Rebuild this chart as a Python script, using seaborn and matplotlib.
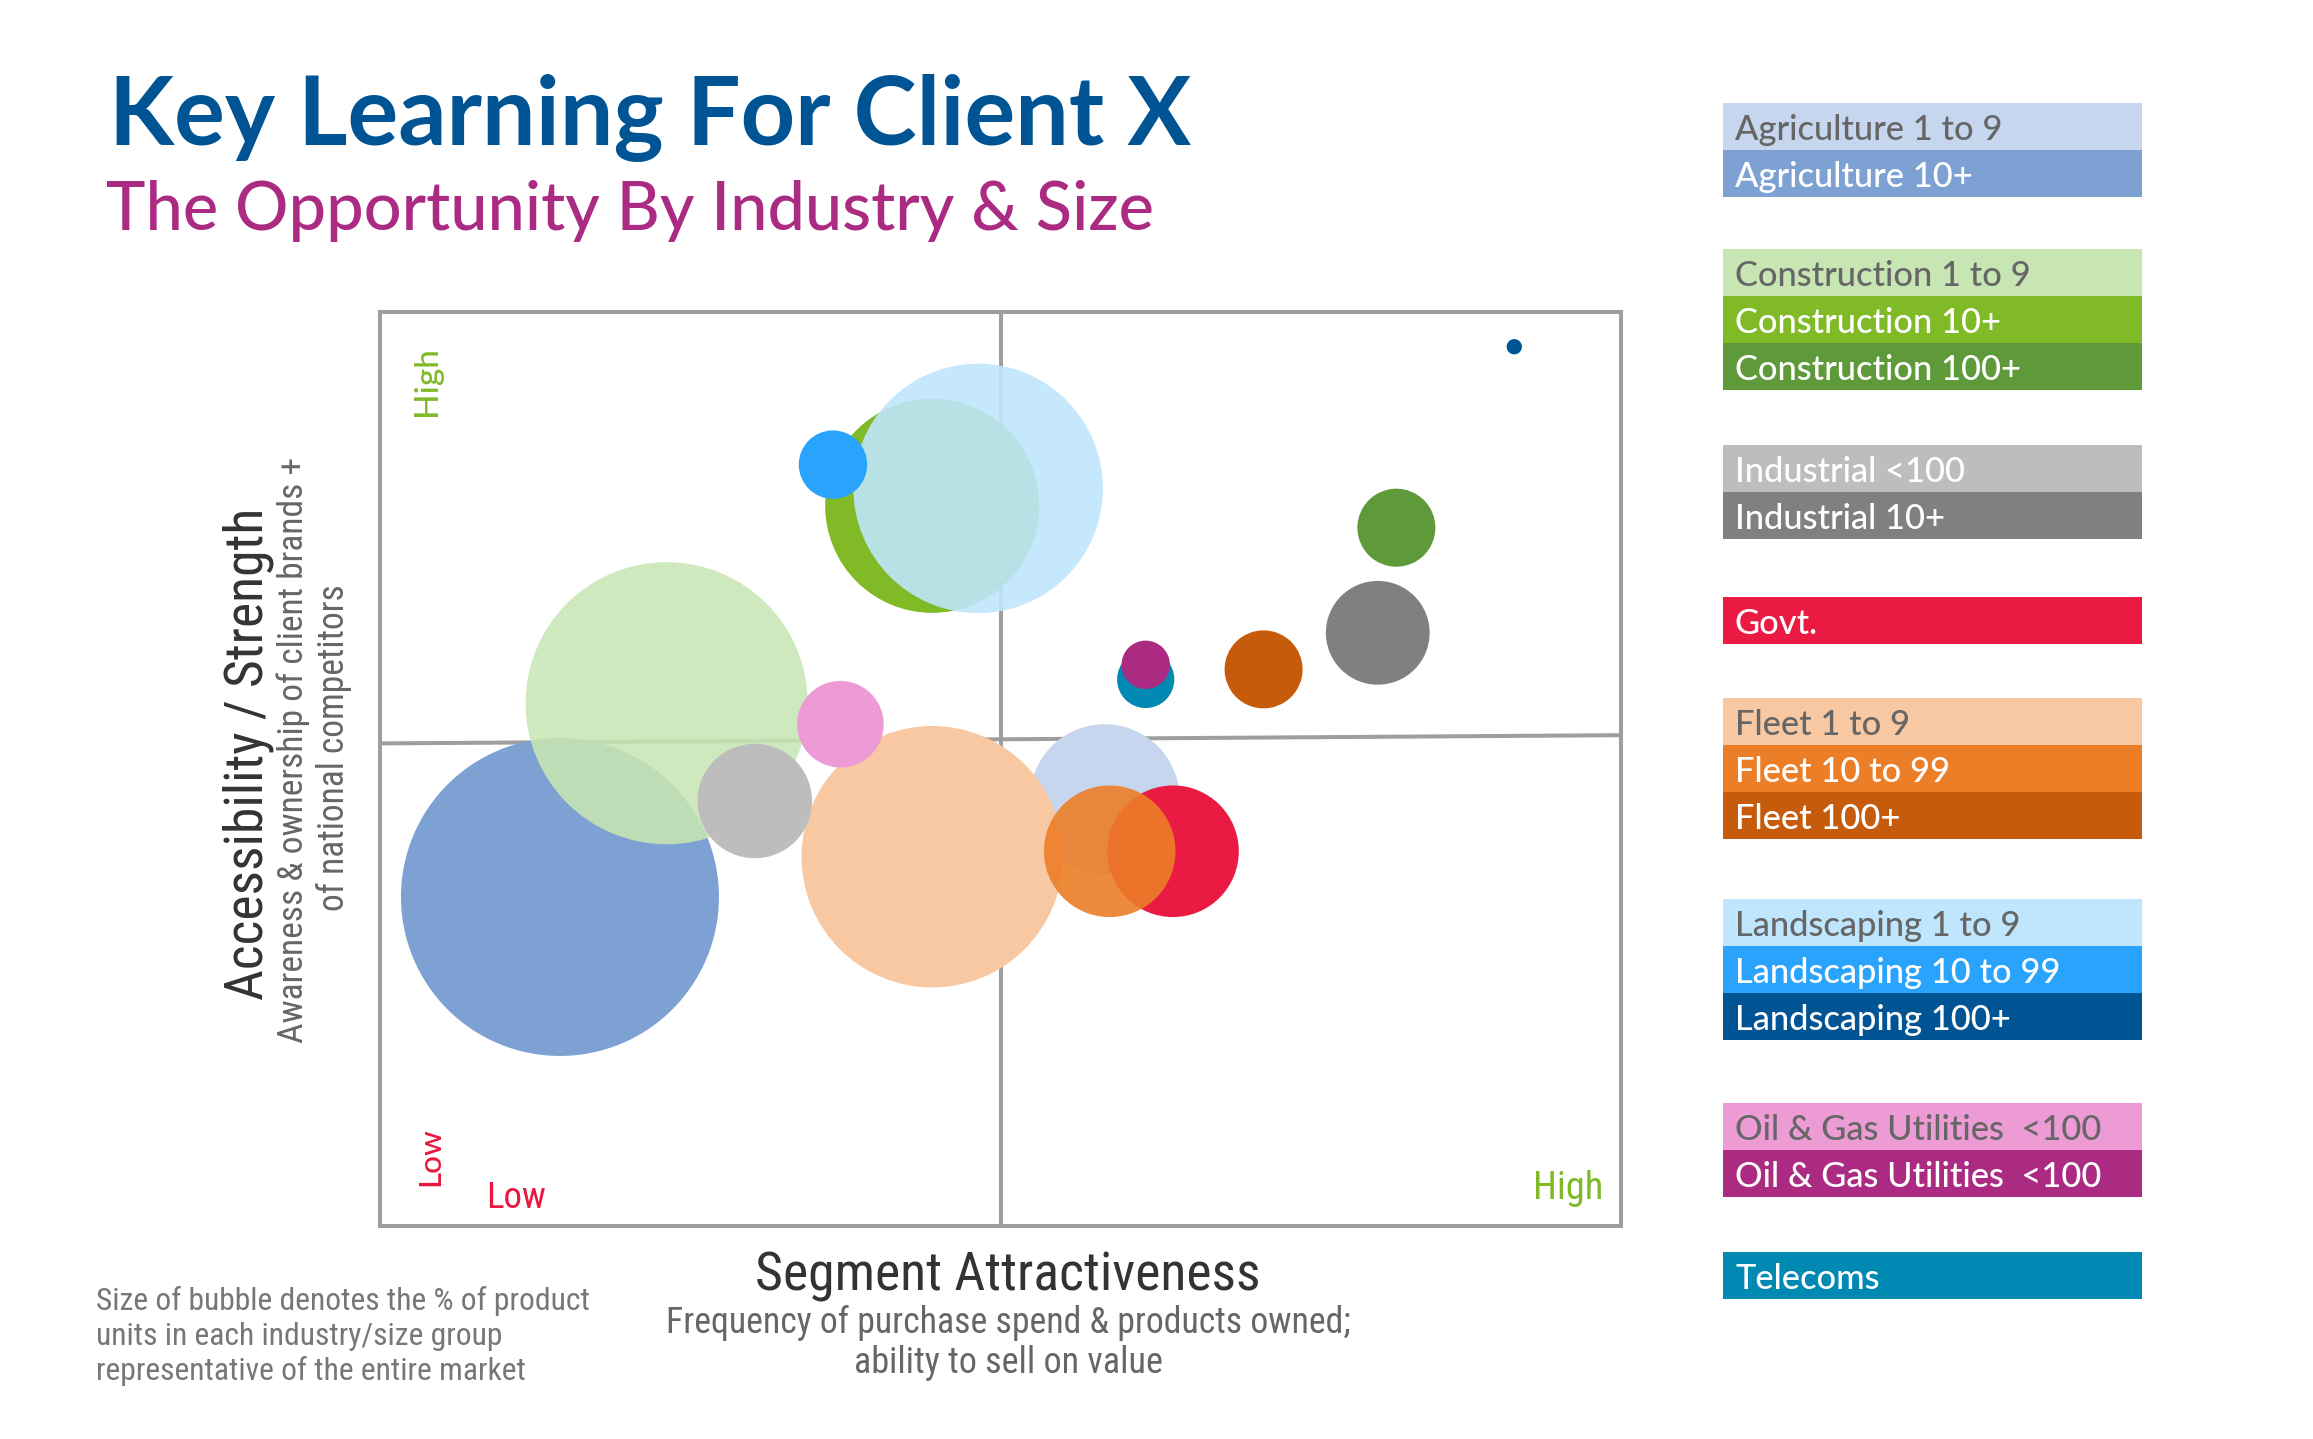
import matplotlib
matplotlib.use("Agg")
import matplotlib.pyplot as plt
import seaborn as sns
import pandas as pd
import numpy as np
from matplotlib import font_manager as fm

# ---------------- data ----------------
segments = ["Agriculture 1 to 9", "Agriculture 10+",
            "Construction 1 to 9", "Construction 10+", "Construction 100+",
            "Industrial <100", "Industrial 10+",
            "Govt.",
            "Fleet 1 to 9", "Fleet 10 to 99", "Fleet 100+",
            "Landscaping 1 to 9", "Landscaping 10 to 99", "Landscaping 100+",
            "Oil & Gas Utilities  <100", "Oil & Gas Utilities  <100",
            "Telecoms"]
group = [0, 0, 1, 1, 1, 2, 2, 3, 4, 4, 4, 5, 5, 5, 6, 6, 7]
colors = ["#C6D6EE", "#7EA1D4",
          "#C8E6B4", "#80BA27", "#5E9A3A",
          "#BDBDBD", "#808080",
          "#EA1A42",
          "#F8C8A2", "#EC7E28", "#C65B0C",
          "#BFE6FC", "#29A3FC", "#005493",
          "#EC9BD5", "#AB2A82",
          "#0089B2"]
# Segment attractiveness (x, 0-100) and accessibility / strength (y, 0-100)
attractiveness = [58.4, 14.5, 23.1, 44.5, 81.9, 30.2, 80.4, 63.9, 44.5, 58.8, 71.2,
                  48.2, 36.5, 91.4, 37.1, 61.7, 61.7]
accessibility = [46.7, 36.0, 57.2, 78.8, 76.4, 46.5, 64.9, 41.0, 40.4, 41.0, 60.9,
                 80.7, 83.3, 96.2, 54.9, 61.4, 59.8]
# % of product units (bubble size)
share = [4.8, 21.6, 17.0, 9.8, 1.3, 2.8, 2.3, 3.7, 14.6, 3.7, 1.3,
         13.3, 1.0, 0.05, 1.6, 0.5, 0.7]
dark_label = [False, True, False, True, True, True, True, True, False, True, True,
              False, True, True, False, True, True]

# ---------------- style / layout ----------------
bubble_alpha = {2: 0.88, 9: 0.9, 11: 0.9}
draw_order = [1, 2, 0, 8, 5, 14, 7, 9, 3, 11, 12, 16, 15, 10, 6, 4, 13]
group_top = [103, 249, 445, 597, 698, 899, 1103, 1252]
ROW_H = 47

sns.set_style("white")
plt.rcParams["font.family"] = ["Lato", "DejaVu Sans"]


def find_condensed():
    entries = fm.fontManager.ttflist
    prefs = ["Noto Sans", "Open Sans", "Roboto", "Liberation Sans", "Lato",
             "Inter", "DejaVu Sans"]
    good_stretch = ["condensed", "semi-condensed"]

    def is_cond(e):
        n = e.name.lower()
        st = str(e.stretch).lower()
        return (st in good_stretch or "condensed" in n or "narrow" in n) and \
            "extra" not in n and "ultra" not in n

    def is_regular(e):
        w = e.weight
        try:
            w = int(w)
        except Exception:
            w = 400 if str(w) in ("normal", "regular", "book") else 700
        return 350 <= w <= 450 and e.style == "normal"

    cands = [e for e in entries if is_cond(e) and is_regular(e)
             and "mono" not in e.name.lower() and "serif" not in e.name.lower()]
    for p in prefs:
        for e in cands:
            if e.name.startswith(p) and ("semi" not in e.fname.lower()):
                return fm.FontProperties(fname=e.fname)
        for e in cands:
            if e.name.startswith(p):
                return fm.FontProperties(fname=e.fname)
    if cands:
        return fm.FontProperties(fname=cands[0].fname)
    return fm.FontProperties(family="DejaVu Sans", stretch="condensed")


COND_FP = find_condensed()

W, H, DPI = 2313, 1439, 100
fig = plt.figure(figsize=(W / DPI, H / DPI), dpi=DPI)
fig.patch.set_facecolor("white")
renderer = fig.canvas.get_renderer()


def put(s, x, y, width=None, size=20, rotation=0, ha="left", va="baseline",
        cond=False, **kw):
    if cond:
        kw["fontproperties"] = COND_FP.copy()
    t = fig.text(x / W, 1 - y / H, s, rotation=rotation, ha=ha, va=va,
                 rotation_mode="anchor", **kw)
    t.set_fontsize(size)
    if width:
        bb = t.get_window_extent(renderer)
        cur = bb.height if rotation == 90 else bb.width
        t.set_fontsize(size * width / cur)
    return t


# ---------------- main chart ----------------
L, R, T, B = 380, 1621, 312, 1226
ax = fig.add_axes([L / W, 1 - B / H, (R - L) / W, (B - T) / H])
ax.set_xlim(0, 100)
ax.set_ylim(0, 100)

df = pd.DataFrame({"seg_id": range(len(segments)), "segment": segments,
                   "attract": attractiveness, "access": accessibility,
                   "share": share})
df["alpha"] = [bubble_alpha.get(i, 1.0) for i in df.seg_id]
dd = df.set_index("seg_id").loc[draw_order].reset_index()

r_max_px = 159
smax = (2 * r_max_px * 72 / DPI) ** 2
pal = {i: colors[i] for i in range(len(segments))}
sns.scatterplot(data=dd, x="attract", y="access", hue="seg_id", palette=pal,
                size="share", sizes=(0, smax), size_norm=(0, max(share)),
                legend=False, linewidth=0, ax=ax, zorder=3)
coll = ax.collections[-1]
fc = np.array(coll.get_facecolors())
fc[:, 3] = dd["alpha"].values
coll.set_facecolor(fc)
coll.set_edgecolor("none")

grid_col = "#9E9E9E"
ax.axvline(50, color=grid_col, lw=2.9, zorder=1)
ax.plot([0, 100], [52.8, 53.7], color=grid_col, lw=2.9, zorder=1,
        solid_capstyle="butt")
for sp in ax.spines.values():
    sp.set_color(grid_col)
    sp.set_linewidth(2.9)
    sp.set_visible(True)
ax.set_xticks([])
ax.set_yticks([])
ax.set_xlabel("")
ax.set_ylabel("")

# quadrant labels
put("High", 436, 381, width=70, size=24, rotation=90, ha="center",
    color="#80BA27", weight="medium")
put("Low", 439, 1157, width=59, size=24, rotation=90, ha="center",
    color="#E8183F", weight="medium")
put("Low", 486, 1208, width=60, size=24, color="#E8183F", cond=True)
put("High", 1603, 1199, width=70, size=24, ha="right", color="#80BA27", cond=True)

# ---------------- titles ----------------
put("Key Learning For Client X", 109, 145, width=1083, size=66,
    weight="bold", color="#005493")
put("The Opportunity By Industry & Size", 106, 230, width=1048, size=48,
    color="#AB2A82", weight="medium")

# axis titles
put("Accessibility / Strength", 262, 754, width=493, size=32, rotation=90,
    ha="center", color="#333333", cond=True)
put("Awareness & ownership of client brands +", 303, 750, width=586, size=22,
    rotation=90, ha="center", color="#666666", cond=True)
put("of national competitors", 344, 748, width=327, size=22,
    rotation=90, ha="center", color="#666666", cond=True)

put("Segment Attractiveness", 1008, 1290, width=507, size=32, ha="center",
    color="#333333", cond=True)
put("Frequency of purchase spend & products owned;", 1008, 1333, width=685,
    size=22, ha="center", color="#666666", cond=True)
put("ability to sell on value", 1008, 1373, width=309, size=22, ha="center",
    color="#666666", cond=True)

note = put("Size of bubble denotes the % of product", 96, 1310, width=494, size=20,
           color="#777777", cond=True)
ns = note.get_fontsize()
put("units in each industry/size group", 96, 1345, size=ns, color="#777777", cond=True)
put("representative of the entire market", 96, 1380, size=ns, color="#777777", cond=True)

# ---------------- legend ----------------
LX0, LX1 = 1723, 2142
LY0, LY1 = 100, 1305
lax = fig.add_axes([LX0 / W, 1 - LY1 / H, (LX1 - LX0) / W, (LY1 - LY0) / H])
lax.set_xlim(0, 1)
lax.set_ylim(LY1, LY0)
lax.axis("off")
tops = []
prev_g, k = -1, 0
for i, g in enumerate(group):
    if g != prev_g:
        k = 0
        prev_g = g
    tops.append(group_top[g] + k * ROW_H)
    k += 1
lax.barh(tops, [1] * len(tops), height=ROW_H, left=0, align="edge",
         color=colors, linewidth=0)

leg_size = None
for i, s in enumerate(segments):
    col = "white" if dark_label[i] else "#666666"
    if leg_size is None:
        t = put(s, 1735, tops[i] + 37, width=268, size=26, color=col,
                weight="medium")
        leg_size = t.get_fontsize()
    else:
        put(s, 1735, tops[i] + 37, size=leg_size, color=col, weight="medium")

fig.savefig("out.png", dpi=DPI, facecolor="white")
